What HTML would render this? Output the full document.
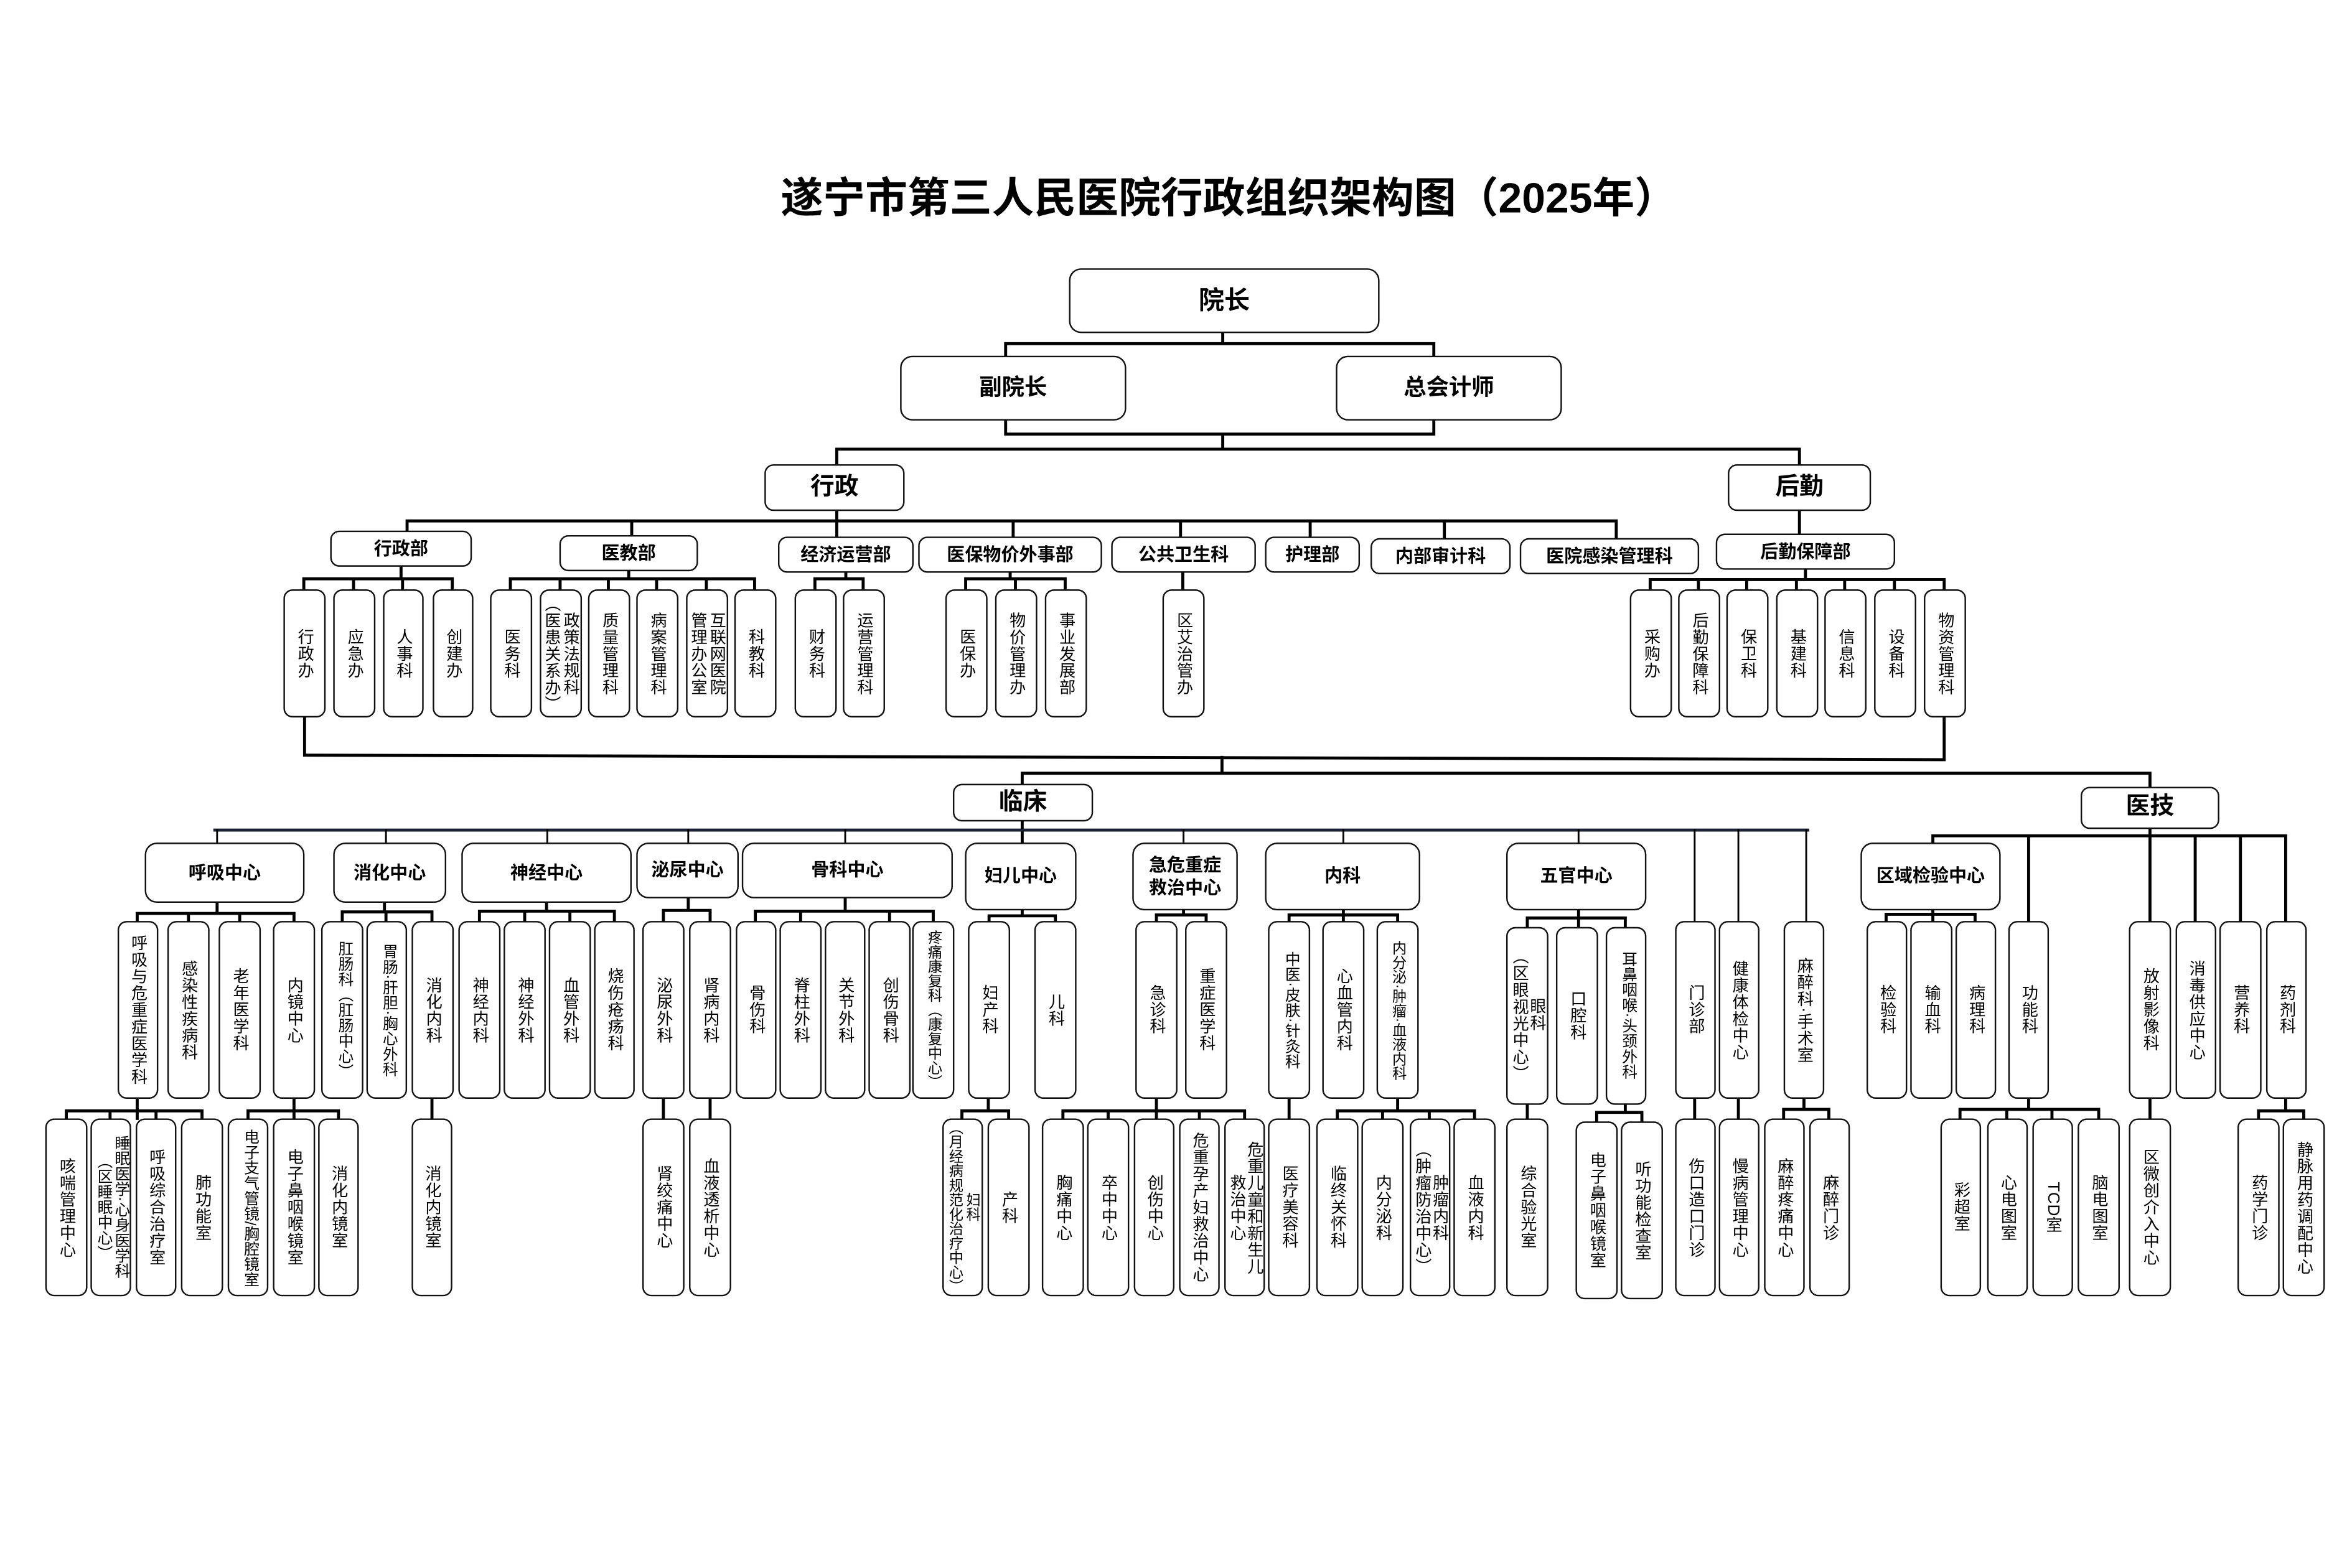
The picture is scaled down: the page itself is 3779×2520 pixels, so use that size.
<!DOCTYPE html>
<html><head><meta charset="utf-8">
<style>
html,body{margin:0;padding:0;background:#fff;}
body{width:3779px;height:2520px;overflow:hidden;position:relative;}
#s{position:absolute;left:0;top:0;width:1560px;height:1040px;transform:scale(2.42244);transform-origin:0 0;font-family:"Liberation Sans","Noto Sans CJK SC",sans-serif;color:#000;}
svg{position:absolute;left:0;top:0;}
.b{position:absolute;border:1.2px solid #111;border-radius:6px;background:#fff;box-sizing:border-box;display:flex;align-items:center;justify-content:center;text-align:center;}
.h{font-weight:700;font-size:12px;line-height:15px;}
.v{writing-mode:vertical-rl;font-size:10.8px;line-height:12.5px;letter-spacing:0.3px;}
.l3{top:391px;height:85px;width:27.5px;}
.l4{top:611px;height:118px;width:27.5px;}
.l5{top:742px;height:118px;width:27.5px;}
.s{font-size:9.6px;line-height:11px;letter-spacing:0;}
.m{font-size:10.2px;letter-spacing:0;}
.t{position:absolute;left:315px;width:1000px;top:115px;text-align:center;font-size:28px;font-weight:700;line-height:34px;}
</style></head><body><div id="s">
<div class="t">遂宁市第三人民医院行政组织架构图（2025年）</div>
<svg width="1560" height="1040" viewBox="0 0 1560 1040" fill="none" stroke="#000" stroke-linecap="square">
<g stroke-width="2">
<path d="M811 221V228M667 236V228H951V236"/>
<path d="M667 279V288H951V279M811 288V298M555 308V298H1193.5V308"/>
<path d="M555 338V356M270 352V345.6H1072V357M419 345.6V355M672 345.6V356M783 345.6V356M869 345.6V356M958 345.6V357"/>
<path d="M1193.5 338V354"/>
<path d="M266 376V384M201.5 391V384H300V391M234.5 384V391M267 384V391"/>
<path d="M417 379V384M338.5 391V384H500.5V391M371.5 384V391M403.5 384V391M435.5 384V391M468.5 384V391"/>
<path d="M561 380V384M540.5 391V384H572.5V391"/>
<path d="M670 380V384M640.5 391V384H706.5V391M673.5 384V391"/>
<path d="M784.5 380V391"/>
<path d="M1197.5 378V384.5M1094.5 391V384.5H1289.5V391M1126.5 384.5V391M1158.5 384.5V391M1191.5 384.5V391M1223.5 384.5V391M1256.5 384.5V391"/>
<path d="M202 474V501L1289.5 504V476M810.5 502.5V513M678 519.6V513H1426V521.5"/>
<path d="M678 544.6V558.6"/>
<path d="M1426 550V554.5M1282 559V554.5H1516V611M1345.5 554.5V611M1426 554.5V611M1456 554.5V611M1486 554.5V611"/>
<path d="M144 599V606M91 611V606H195V611M125 606V611M159 606V611"/>
<path d="M255 599V605M227 611V605H286.5V611M256 605V611"/>
<path d="M362.5 599V604.5M318 611V604.5H407.5V611M348 604.5V611M378 604.5V611"/>
<path d="M456.5 596V604M440 611V604H471V611"/>
<path d="M560.6 596V604.5M501 611V604.5H619V611M531 604.5V611M590 604.5V611"/>
<path d="M678 604V607.6M656 611V607.6H700V611"/>
<path d="M785 604V607M767 611V607H800V611"/>
<path d="M891 604V611M855 611V607H927V611"/>
<path d="M1047 604V614.6M1013 614.6V609H1078V614.6"/>
<path d="M1282 604V611M1251 611V606.6H1310V611"/>
<path d="M91 729V742M44 742V737H134V742M73 737V742M103.5 737V742"/>
<path d="M195 729V742M164.5 742V737H224.5V742"/>
<path d="M286.5 729V742M440 729V742M471 729V742"/>
<path d="M655.5 729V737M638 742V737H669V742"/>
<path d="M767 729V742M705 742V737H825.5V742M735 737V742M795.5 737V742"/>
<path d="M855 729V742"/>
<path d="M927 729V737M887 742V737H978V742M917 737V742M948 737V742"/>
<path d="M1013 732.7V742M1078 732.7V738M1059 744V738H1089V744"/>
<path d="M1124 729V742M1153 729V742"/>
<path d="M1196.5 729V736M1183 742V736H1213V742"/>
<path d="M1345.5 729V736M1300 742V736H1392V742M1331 736V742M1361 736V742"/>
<path d="M1426 729V742"/>
<path d="M1516 729V737M1498 742V737H1528V742"/>
</g>
<path d="M142.5 550.7H1199" stroke="#1a2233" stroke-width="2"/>
<g stroke-width="1.2">
<path d="M144 550.7V559M256 550.7V559M363 550.7V559M456.5 550.7V559M560.6 550.7V559M785 550.7V559M891 550.7V559M1047 550.7V559M1124 550.7V611M1153 550.7V611M1198 550.7V611"/>
</g>
</svg>

<div class="b h" style="left:709px;top:178px;width:206px;height:43px;font-size:17px;border-radius:8px">院长</div>
<div class="b h" style="left:597px;top:236px;width:150px;height:43px;font-size:15px;border-radius:8px">副院长</div>
<div class="b h" style="left:886px;top:236px;width:150px;height:43px;font-size:15px;border-radius:8px">总会计师</div>
<div class="b h" style="left:507px;top:308px;width:93px;height:31px;font-size:16px">行政</div>
<div class="b h" style="left:1146px;top:308px;width:95px;height:31px;font-size:16px">后勤</div>

<div class="b h" style="left:219px;top:352px;width:94px;height:24px">行政部</div>
<div class="b h" style="left:371px;top:355px;width:92px;height:24px">医教部</div>
<div class="b h" style="left:516px;top:356px;width:90px;height:24px">经济运营部</div>
<div class="b h" style="left:609px;top:356px;width:122px;height:24px">医保物价外事部</div>
<div class="b h" style="left:737px;top:356px;width:96px;height:24px">公共卫生科</div>
<div class="b h" style="left:839px;top:356px;width:63px;height:24px">护理部</div>
<div class="b h" style="left:909px;top:357px;width:93px;height:24px">内部审计科</div>
<div class="b h" style="left:1008px;top:357px;width:119px;height:24px">医院感染管理科</div>
<div class="b h" style="left:1138px;top:354px;width:119px;height:24px">后勤保障部</div>

<div class="b v l3" style="left:188px">行政办</div>
<div class="b v l3" style="left:221px">应急办</div>
<div class="b v l3" style="left:253.5px">人事科</div>
<div class="b v l3" style="left:286.5px">创建办</div>
<div class="b v l3" style="left:325px">医务科</div>
<div class="b v l3" style="left:358px">政策法规科<br>（医患关系办）</div>
<div class="b v l3" style="left:390px">质量管理科</div>
<div class="b v l3" style="left:422px">病案管理科</div>
<div class="b v l3" style="left:455px">互联网医院<br>管理办公室</div>
<div class="b v l3" style="left:487px">科教科</div>
<div class="b v l3" style="left:527px">财务科</div>
<div class="b v l3" style="left:559px">运营管理科</div>
<div class="b v l3" style="left:627px">医保办</div>
<div class="b v l3" style="left:660px">物价管理办</div>
<div class="b v l3" style="left:693px">事业发展部</div>
<div class="b v l3" style="left:771px">区艾治管办</div>
<div class="b v l3" style="left:1081px">采购办</div>
<div class="b v l3" style="left:1113px">后勤保障科</div>
<div class="b v l3" style="left:1145px">保卫科</div>
<div class="b v l3" style="left:1178px">基建科</div>
<div class="b v l3" style="left:1210px">信息科</div>
<div class="b v l3" style="left:1243px">设备科</div>
<div class="b v l3" style="left:1276px">物资管理科</div>

<div class="b h" style="left:632px;top:519.6px;width:93px;height:25px;font-size:16px">临床</div>
<div class="b h" style="left:1380px;top:521.5px;width:92px;height:28.5px;font-size:16px">医技</div>

<div class="b h" style="left:96px;top:559px;width:106px;height:40px;border-radius:8px">呼吸中心</div>
<div class="b h" style="left:221px;top:559px;width:75px;height:40px;border-radius:8px">消化中心</div>
<div class="b h" style="left:306px;top:559px;width:113px;height:40px;border-radius:8px">神经中心</div>
<div class="b h" style="left:422px;top:559px;width:68px;height:37px;border-radius:8px">泌尿中心</div>
<div class="b h" style="left:492px;top:559px;width:140px;height:37px;border-radius:8px">骨科中心</div>
<div class="b h" style="left:640px;top:559px;width:74px;height:45px;border-radius:8px">妇儿中心</div>
<div class="b h" style="left:751px;top:559px;width:70px;height:45px;border-radius:8px">急危重症<br>救治中心</div>
<div class="b h" style="left:839px;top:559px;width:103px;height:45px;border-radius:8px">内科</div>
<div class="b h" style="left:999px;top:559px;width:93px;height:45px;border-radius:8px">五官中心</div>
<div class="b h" style="left:1234px;top:559px;width:93px;height:45px;border-radius:8px">区域检验中心</div>

<div class="b v l4" style="left:77.5px">呼吸与危重症医学科</div>
<div class="b v l4" style="left:111px">感染性疾病科</div>
<div class="b v l4" style="left:145px">老年医学科</div>
<div class="b v l4" style="left:181px">内镜中心</div>
<div class="b v l4 m" style="left:213px">肛肠科（肛肠中心）</div>
<div class="b v l4 m" style="left:242.5px">胃肠·肝胆·胸心外科</div>
<div class="b v l4" style="left:273px">消化内科</div>
<div class="b v l4" style="left:304px">神经内科</div>
<div class="b v l4" style="left:334px">神经外科</div>
<div class="b v l4" style="left:364px">血管外科</div>
<div class="b v l4" style="left:393.5px">烧伤疮疡科</div>
<div class="b v l4" style="left:426px">泌尿外科</div>
<div class="b v l4" style="left:457px">肾病内科</div>
<div class="b v l4" style="left:487.5px">骨伤科</div>
<div class="b v l4" style="left:517px">脊柱外科</div>
<div class="b v l4" style="left:546.5px">关节外科</div>
<div class="b v l4" style="left:576px">创伤骨科</div>
<div class="b v l4 s" style="left:605px">疼痛康复科（康复中心）</div>
<div class="b v l4" style="left:642px">妇产科</div>
<div class="b v l4" style="left:686px">儿科</div>
<div class="b v l4" style="left:753px">急诊科</div>
<div class="b v l4" style="left:786px">重症医学科</div>
<div class="b v l4 m" style="left:841px">中医·皮肤·针灸科</div>
<div class="b v l4" style="left:877px">心血管内科</div>
<div class="b v l4 s" style="left:913px">内分泌·肿瘤·血液内科</div>
<div class="b v" style="left:999px;top:614.6px;width:27.5px;height:118px;line-height:11.5px">眼科<br>（区眼视光中心）</div>
<div class="b v" style="left:1032px;top:614.6px;width:27.5px;height:118px">口腔科</div>
<div class="b v m" style="left:1064.5px;top:614.6px;width:27.5px;height:118px">耳鼻咽喉·头颈外科</div>
<div class="b v l4" style="left:1110.5px">门诊部</div>
<div class="b v l4" style="left:1139.5px">健康体检中心</div>
<div class="b v l4" style="left:1182.5px">麻醉科·手术室</div>
<div class="b v l4" style="left:1237.5px">检验科</div>
<div class="b v l4" style="left:1267px">输血科</div>
<div class="b v l4" style="left:1296.5px">病理科</div>
<div class="b v l4" style="left:1331.5px">功能科</div>
<div class="b v l4" style="left:1412px">放射影像科</div>
<div class="b v l4" style="left:1442.5px">消毒供应中心</div>
<div class="b v l4" style="left:1472px">营养科</div>
<div class="b v l4" style="left:1502.5px">药剂科</div>

<div class="b v l5" style="left:30px">咳喘管理中心</div>
<div class="b v l5 m" style="left:59.5px;line-height:11.5px">睡眠医学·心身医学科<br>（区睡眠中心）</div>
<div class="b v l5" style="left:89.5px">呼吸综合治疗室</div>
<div class="b v l5" style="left:120px">肺功能室</div>
<div class="b v l5 m" style="left:150.5px">电子支气管镜/胸腔镜室</div>
<div class="b v l5" style="left:181px">电子鼻咽喉镜室</div>
<div class="b v l5" style="left:210.5px">消化内镜室</div>
<div class="b v l5" style="left:272.5px">消化内镜室</div>
<div class="b v l5" style="left:426px">肾绞痛中心</div>
<div class="b v l5" style="left:457px">血液透析中心</div>
<div class="b v l5 s" style="left:624.5px;line-height:11.5px">妇科<br>（月经病规范化治疗中心）</div>
<div class="b v l5" style="left:655px">产科</div>
<div class="b v l5" style="left:691px">胸痛中心</div>
<div class="b v l5" style="left:721px">卒中中心</div>
<div class="b v l5" style="left:751.5px">创伤中心</div>
<div class="b v l5" style="left:781.5px">危重孕产妇救治中心</div>
<div class="b v l5" style="left:811.5px;line-height:11.5px">危重儿童和新生儿<br>救治中心</div>
<div class="b v l5" style="left:841px">医疗美容科</div>
<div class="b v l5" style="left:873px">临终关怀科</div>
<div class="b v l5" style="left:903px">内分泌科</div>
<div class="b v l5" style="left:934.5px;line-height:11.5px">肿瘤内科<br>（肿瘤防治中心）</div>
<div class="b v l5" style="left:964px">血液内科</div>
<div class="b v l5" style="left:999px">综合验光室</div>
<div class="b v" style="left:1045px;top:744px;width:27.5px;height:118px">电子鼻咽喉镜室</div>
<div class="b v" style="left:1075px;top:744px;width:27.5px;height:118px">听功能检查室</div>
<div class="b v l5" style="left:1110.5px">伤口造口门诊</div>
<div class="b v l5" style="left:1139.5px">慢病管理中心</div>
<div class="b v l5" style="left:1169.5px">麻醉疼痛中心</div>
<div class="b v l5" style="left:1199.5px">麻醉门诊</div>
<div class="b v l5" style="left:1286.5px">彩超室</div>
<div class="b v l5" style="left:1317.5px">心电图室</div>
<div class="b v l5" style="left:1347.5px">TCD室</div>
<div class="b v l5" style="left:1378px">脑电图室</div>
<div class="b v l5" style="left:1412px">区微创介入中心</div>
<div class="b v l5" style="left:1484px">药学门诊</div>
<div class="b v l5" style="left:1514px">静脉用药调配中心</div>
</div></body></html>
